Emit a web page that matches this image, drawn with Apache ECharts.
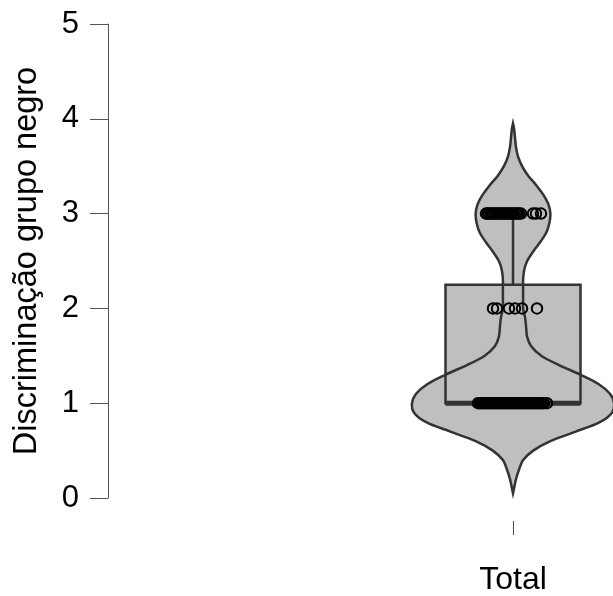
<!DOCTYPE html>
<html>
<head>
<meta charset="utf-8">
<script src="https://cdn.jsdelivr.net/npm/echarts@6/dist/echarts.min.js"></script>
<style>
  html, body { margin: 0; padding: 0; background: #fff; }
  #chart { width: 613px; height: 596px; }
</style>
</head>
<body>
<div id="chart"></div>
<script>
// Category and y-axis ticks
var categories = ['Total'];
var categoryPos = [0];
var yTicks = [0, 1, 2, 3, 4, 5];
var yTitle = 'Discriminação grupo negro';

// Box statistics: [lower whisker, Q1, median, Q3, upper whisker]
var boxStats = [1, 1, 1, 2.25, 3];

// Violin outline: density levels (y) and half-widths (relative units)
var violinY = [0.05, 0.1, 0.2, 0.3, 0.4, 0.5, 0.6, 0.7, 0.8, 0.9, 1.0,
  1.1, 1.2, 1.3, 1.4, 1.5, 1.6, 1.7, 1.8, 1.9, 2.0,
  2.1, 2.2, 2.3, 2.4, 2.5, 2.6, 2.7, 2.8, 2.9, 3.0,
  3.1, 3.2, 3.3, 3.4, 3.5, 3.6, 3.7, 3.8, 3.9, 3.95];
var violinWidth = [0, 0.01, 0.03, 0.06, 0.10, 0.20, 0.37, 0.62, 0.86, 0.98, 1.0,
  0.96, 0.85, 0.67, 0.46, 0.28, 0.18, 0.14, 0.13, 0.12, 0.10,
  0.10, 0.10, 0.10, 0.11, 0.14, 0.20, 0.27, 0.33, 0.36, 0.37,
  0.35, 0.30, 0.23, 0.15, 0.09, 0.05, 0.03, 0.02, 0.01, 0];

// Observations (value) with their horizontal jitter
var obs1Jitter = [-0.35, -0.33, -0.31, -0.29, -0.27, -0.25, -0.23, -0.21, -0.19, -0.17,
  -0.15, -0.13, -0.11, -0.09, -0.07, -0.05, -0.03, -0.01, 0.01, 0.03,
  0.05, 0.07, 0.09, 0.11, 0.13, 0.15, 0.17, 0.19, 0.21, 0.23,
  0.25, 0.27, 0.29, 0.31, 0.34];
var obs2Jitter = [-0.20, -0.16, -0.04, 0.02, 0.09, 0.24];
var obs3Jitter = [-0.27, -0.255, -0.24, -0.22, -0.205, -0.19, -0.17, -0.155, -0.14, -0.12,
  -0.105, -0.09, -0.07, -0.055, -0.04, -0.02, -0.005, 0.01, 0.03, 0.045,
  0.06, 0.08, 0.20, 0.23, 0.28];

var violinScale = 1.01;
var boxHalf = 0.675;
var fillGray = '#bfbfbf';
var strokeDark = '#333333';
var fontFam = '"Liberation Sans", Arial, sans-serif';

function pts(jit, v) { return jit.map(function (j) { return [categoryPos[0] + j, v]; }); }
var points = pts(obs1Jitter, 1).concat(pts(obs2Jitter, 2)).concat(pts(obs3Jitter, 3));

function boxRect(api) {
  var tl = api.coord([categoryPos[0] - boxHalf, boxStats[3]]);
  var br = api.coord([categoryPos[0] + boxHalf, boxStats[1]]);
  return { x: tl[0], y: tl[1], width: br[0] - tl[0], height: br[1] - tl[1] };
}

var chart = echarts.init(document.getElementById('chart'), null, { renderer: 'canvas' });
chart.setOption({
  animation: false,
  backgroundColor: '#ffffff',
  grid: { left: 108, right: 0, top: 24, bottom: 92 },
  xAxis: {
    type: 'value',
    min: -4.05, max: 1,
    offset: 23,
    axisLine: { show: false, onZero: false },
    axisTick: { show: true, customValues: categoryPos, length: 14, lineStyle: { color: '#555', width: 1 } },
    axisLabel: {
      customValues: categoryPos,
      fontSize: 32, color: '#000', fontFamily: fontFam, margin: 43,
      formatter: function (v) {
        var i = categoryPos.indexOf(v);
        return i >= 0 ? categories[i] : '';
      }
    },
    splitLine: { show: false }
  },
  yAxis: {
    type: 'value',
    min: yTicks[0], max: yTicks[yTicks.length - 1], interval: 1,
    name: yTitle,
    nameLocation: 'middle',
    nameGap: 64,
    nameTextStyle: { fontSize: 32.5, color: '#000', fontFamily: fontFam },
    axisLine: { show: true, onZero: false, lineStyle: { color: '#555', width: 1 } },
    axisTick: { show: true, length: 18, lineStyle: { color: '#555', width: 1 } },
    axisLabel: { fontSize: 31, color: '#000', fontFamily: fontFam, margin: 29 },
    splitLine: { show: false }
  },
  series: [{
    // box fill
    type: 'custom', z: 1, data: [0],
    renderItem: function (params, api) {
      return { type: 'rect', shape: boxRect(api), style: { fill: fillGray, stroke: null } };
    }
  }, {
    // violin
    type: 'custom', z: 2, data: [0],
    renderItem: function (params, api) {
      var right = [], left = [];
      for (var i = 0; i < violinY.length; i++) {
        var w = violinWidth[i] * violinScale;
        right.push(api.coord([categoryPos[0] + w, violinY[i]]));
        left.push(api.coord([categoryPos[0] - w, violinY[i]]));
      }
      var poly = right.concat(left.reverse());
      return {
        type: 'polygon',
        shape: { points: poly, smooth: 0.35 },
        style: { fill: fillGray, stroke: strokeDark, lineWidth: 2.5 }
      };
    }
  }, {
    // box outline, whiskers and median
    type: 'custom', z: 3, data: [0],
    renderItem: function (params, api) {
      var r = boxRect(api);
      var x0 = categoryPos[0];
      var c3 = api.coord([x0, boxStats[3]]);
      var c4 = api.coord([x0, boxStats[4]]);
      var c1 = api.coord([x0, boxStats[1]]);
      var c0 = api.coord([x0, boxStats[0]]);
      var mL = api.coord([x0 - boxHalf, boxStats[2]]);
      var mR = api.coord([x0 + boxHalf, boxStats[2]]);
      return {
        type: 'group',
        children: [
          { type: 'rect', shape: r, style: { fill: null, stroke: strokeDark, lineWidth: 2.5 } },
          { type: 'line', shape: { x1: c3[0], y1: c3[1], x2: c4[0], y2: c4[1] }, style: { stroke: strokeDark, lineWidth: 2.5 } },
          { type: 'line', shape: { x1: c0[0], y1: c0[1], x2: c1[0], y2: c1[1] }, style: { stroke: strokeDark, lineWidth: 2.5 } },
          { type: 'line', shape: { x1: mL[0], y1: mL[1], x2: mR[0], y2: mR[1] }, style: { stroke: strokeDark, lineWidth: 5 } }
        ]
      };
    }
  }, {
    type: 'scatter', z: 4,
    data: points,
    symbol: 'circle',
    symbolSize: 10.5,
    itemStyle: { color: 'rgba(0,0,0,0)', borderColor: '#000', borderWidth: 2, opacity: 1 }
  }]
});
</script>
</body>
</html>
